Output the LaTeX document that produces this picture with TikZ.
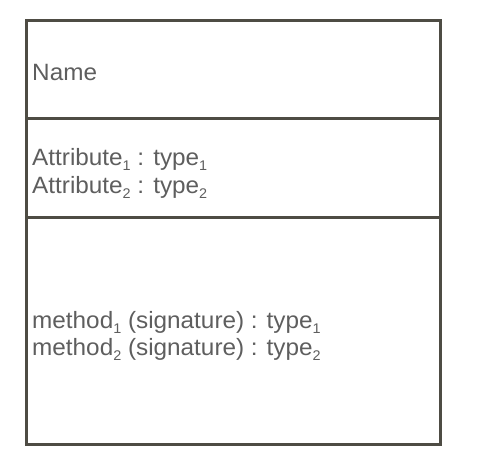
\documentclass[tikz,border=0pt]{standalone}
\usepackage{fontspec}
\setmainfont{Liberation Sans}[FakeStretch=1.03]
\definecolor{boxline}{HTML}{4E4C44}
\definecolor{txt}{HTML}{5E5E5E}
\newcommand{\lowsub}[1]{\raisebox{-0.22em}{\fontsize{14}{14}\selectfont #1}}
\begin{document}
\begin{tikzpicture}[x=1pt,y=-1pt,
  lbl/.style={anchor=base west,inner sep=0pt,text=txt,font=\fontsize{23.6}{27}\selectfont},
  frame/.style={draw=boxline,line width=3pt}]
\useasboundingbox (0,0) rectangle (477,474);
\draw[frame] (26,20) rectangle (440,444);
\coordinate (d1l) at (26,118); \coordinate (d1r) at (440,118);
\coordinate (d2l) at (26,217); \coordinate (d2r) at (440,217);
\draw[frame] (d1l) -- (d1r);
\draw[frame] (d2l) -- (d2r);
\node[lbl] (name) at (32,80) {Name};
\node[lbl] (a1) at (32,165) {Attribute\lowsub{1} : type\lowsub{1}};
\node[lbl] (a2) at (32,193) {Attribute\lowsub{2} : type\lowsub{2}};
\node[lbl] (m1) at (32,328) {method\lowsub{1} (signature) : type\lowsub{1}};
\node[lbl] (m2) at (32,355) {method\lowsub{2} (signature) : type\lowsub{2}};
\end{tikzpicture}
\end{document}
